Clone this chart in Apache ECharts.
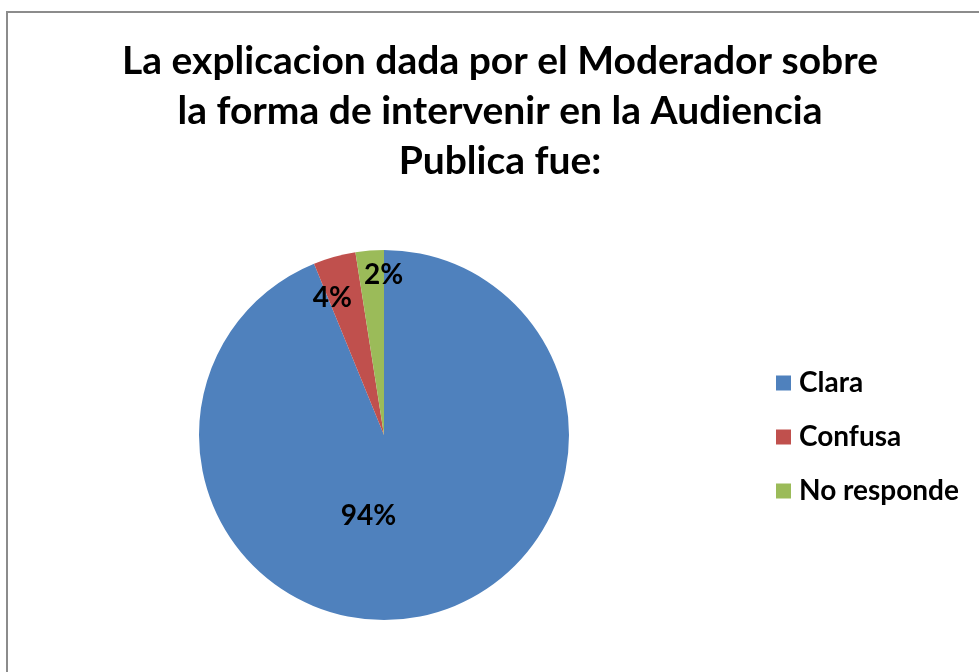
<!DOCTYPE html>
<html>
<head>
<meta charset="utf-8">
<script src="https://cdn.jsdelivr.net/npm/echarts@6/dist/echarts.min.js"></script>
<style>
html,body{margin:0;padding:0;background:#fff;}
#chart{width:979px;height:672px;}
</style>
</head>
<body>
<div id="chart"></div>
<script>
var titleLines = ['La explicacion dada por el Moderador sobre', 'la forma de intervenir en la Audiencia', 'Publica fue:'];
var categories = ['Clara', 'Confusa', 'No responde'];
var values = [76, 3, 2];
var colors = ['#4F81BD', '#C0504D', '#9BBB59'];
var labelOffsets = [[-34, -13], [-26, -45], [7, -65]];

var FONT = 'Lato';
var chart = echarts.init(document.getElementById('chart'), null, {renderer: 'canvas'});
var data = categories.map(function (c, i) {
  return {
    name: c,
    value: values[i],
    itemStyle: {color: colors[i]},
    label: {offset: labelOffsets[i]}
  };
});
chart.setOption({
  backgroundColor: '#ffffff',
  animation: false,
  title: {
    text: titleLines.join('\n'),
    left: 495,
    top: 31,
    textAlign: 'center',
    textStyle: {fontFamily: FONT, fontWeight: 'bold', fontSize: 39, lineHeight: 50, color: '#000'}
  },
  legend: {
    orient: 'vertical',
    left: 771,
    top: 363,
    itemWidth: 15,
    itemHeight: 15,
    itemGap: 24,
    icon: 'rect',
    data: categories,
    textStyle: {fontFamily: FONT, fontWeight: 'bold', fontSize: 28, lineHeight: 30, color: '#000', padding: [0, 0, 0, 3]}
  },
  graphic: [{
    type: 'rect',
    shape: {x: 7, y: 12, width: 1000, height: 700},
    style: {fill: 'none', stroke: '#8c8c8c', lineWidth: 2},
    silent: true
  }],
  series: [{
    type: 'pie',
    center: [384, 435],
    radius: [0, 185],
    startAngle: 90,
    clockwise: true,
    percentPrecision: 0,
    data: data,
    label: {
      show: true,
      position: 'inside',
      formatter: '{d}%',
      fontFamily: FONT,
      fontWeight: 'bold',
      fontSize: 28,
      color: '#000'
    },
    labelLine: {show: false},
    emphasis: {disabled: true}
  }]
});
</script>
</body>
</html>
